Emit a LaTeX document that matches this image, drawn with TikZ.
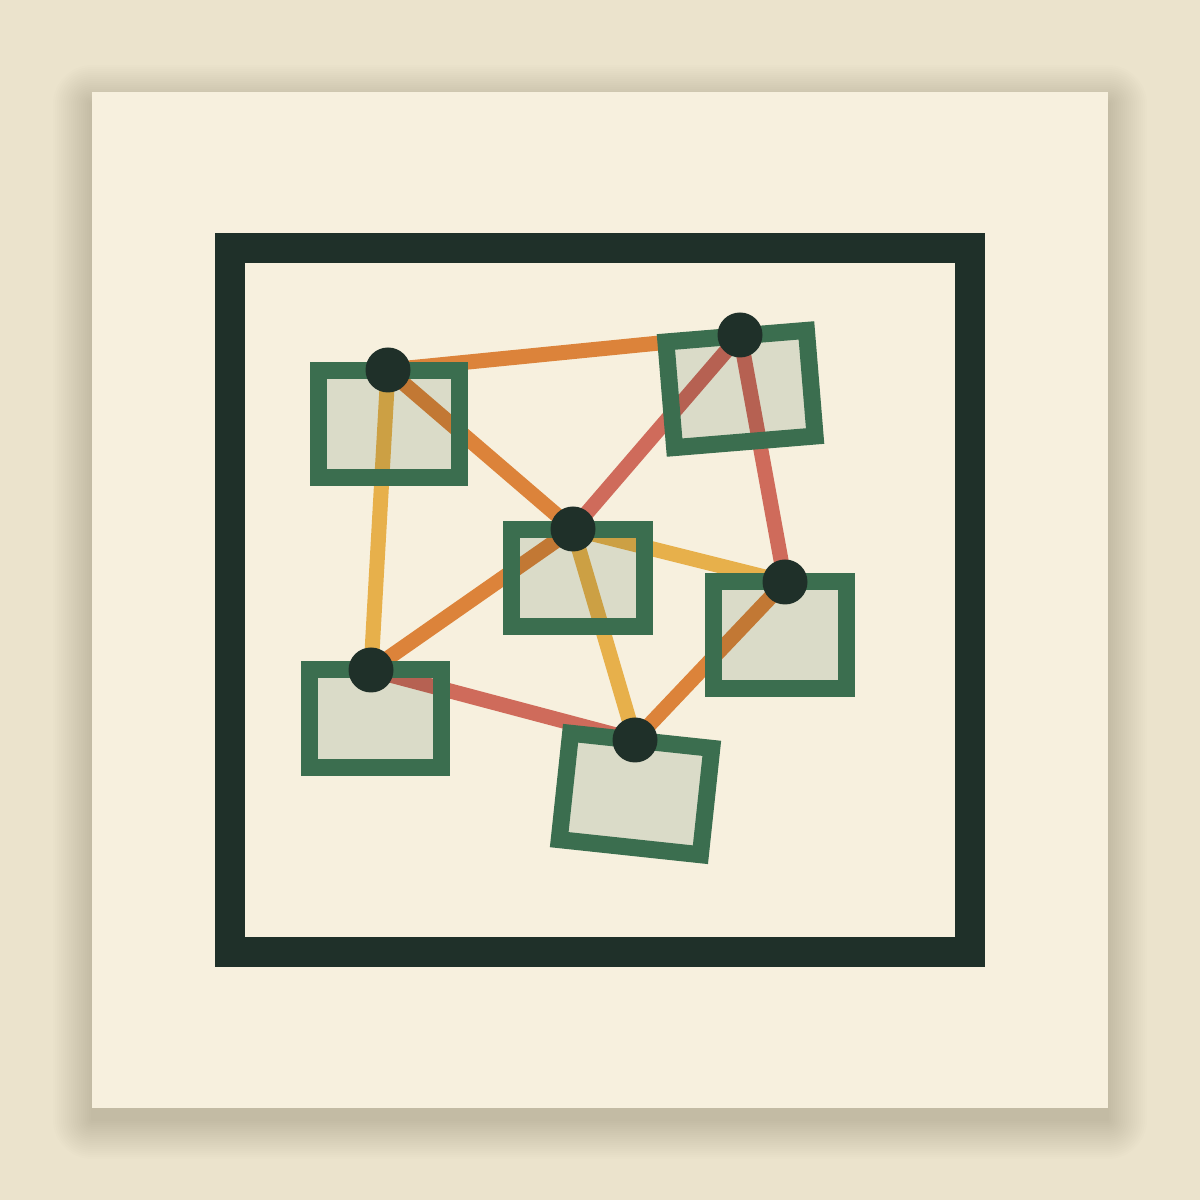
\documentclass[tikz,border=0pt]{standalone}
\usepackage{tikz}
\usetikzlibrary{calc}
\usetikzlibrary{positioning}
\definecolor{bgpaper}{HTML}{EBE3CC}
\definecolor{card}{HTML}{F7F0DE}
\definecolor{ink}{HTML}{1F3029}
\definecolor{leaf}{HTML}{3B6E4F}
\definecolor{sage}{HTML}{DADBC8}
\definecolor{rust}{HTML}{E48C43}
\definecolor{honey}{HTML}{EFBB57}
\definecolor{brick}{HTML}{D67269}
\pgfdeclarelayer{back}
\pgfdeclarelayer{panels}
\pgfdeclarelayer{edges}
\pgfdeclarelayer{front}
\pgfsetlayers{back,panels,edges,main,front}

\begin{document}
\begin{tikzpicture}[x=1pt, y=1pt]
 \tikzstyle{pnode}=[rectangle, fill=sage, inner sep=0pt, outer sep=0pt]
 \tikzstyle{pframe}=[draw=leaf, line width=17pt, line join=miter]
 \tikzstyle{dnode}=[circle, fill=ink, minimum size=45pt, inner sep=0pt]
 \tikzstyle{line} = [draw, line width=15pt, blend mode=multiply]

 \useasboundingbox (0, 0) rectangle (1200, 1200);

 \begin{pgfonlayer}{back}
  \fill[bgpaper] (0, 0) rectangle (1200, 1200);
  % soft shadow under the card
  \foreach \s in {1, 3, ..., 39} {
   \fill[black, opacity=0.0065, rounded corners=\s pt] (92-\s, 92-12-\s) rectangle (1108+\s, 1108-12+\s);
  }
  \fill[card] (92, 92) rectangle (1108, 1108);
  \draw[ink, line width=30pt] (230, 248) rectangle (970, 952);
 \end{pgfonlayer}

 % junctions
 \begin{pgfonlayer}{front}
  \node[dnode] (a) at (388, 830) {};
  \node[dnode] (b) at (740, 865) {};
  \node[dnode] (c) at (573, 671) {};
  \node[dnode] (d) at (785, 618) {};
  \node[dnode] (e) at (371, 530) {};
  \node[dnode] (f) at (635, 460) {};
 \end{pgfonlayer}

 % panels
 \begin{pgfonlayer}{panels}
  \node[pnode, minimum width=141pt, minimum height=107pt] (pa) at (388.5, 776) {};
  \node[pnode, minimum width=141pt, minimum height=106pt, rotate=4.7] (pb) at (740.5, 811) {};
  \node[pnode, minimum width=133pt, minimum height=97pt] (pc) at (578, 622) {};
  \node[pnode, minimum width=133pt, minimum height=107pt] (pd) at (780, 565) {};
  \node[pnode, minimum width=132pt, minimum height=98pt] (pe) at (375.5, 481.5) {};
  \node[pnode, minimum width=142pt, minimum height=107pt, rotate=-6.1] (pf) at (635.5, 406) {};
 \end{pgfonlayer}
 \foreach \p in {pa, pb, pc, pd, pe, pf} {
  \draw[pframe] (\p.north west) -- (\p.north east) -- (\p.south east) -- (\p.south west) -- cycle;
 }

 % links
 \begin{pgfonlayer}{edges}
  \path [line, rust] (a.center) -- (b.center);
  \path [line, rust] (a.center) -- (c.center);
  \path [line, honey] (a.center) -- (e.center);
  \path [line, brick] (b.center) -- (c.center);
  \path [line, brick] (b.center) -- (d.center);
  \path [line, honey] (c.center) -- (d.center);
  \path [line, rust] (c.center) -- (e.center);
  \path [line, honey] (c.center) -- (f.center);
  \path [line, rust] (d.center) -- (f.center);
  \path [line, brick] (e.center) -- (f.center);
 \end{pgfonlayer}
\end{tikzpicture}
\end{document}
